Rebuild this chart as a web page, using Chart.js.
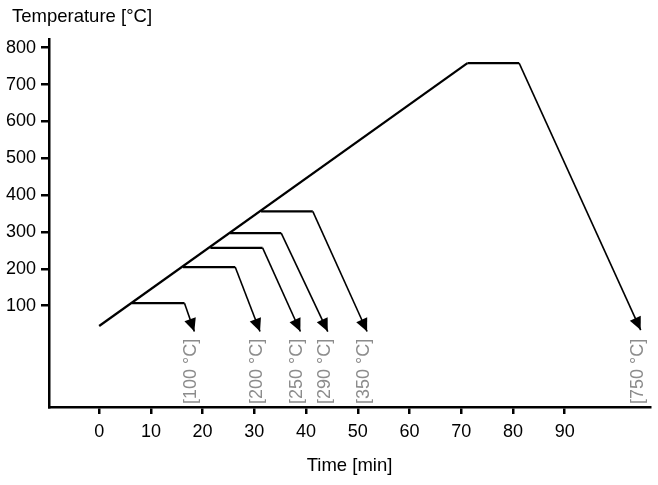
<!DOCTYPE html>
<html>
<head>
<meta charset="utf-8">
<script src="https://cdn.jsdelivr.net/npm/chart.js@4/dist/chart.umd.min.js"></script>
<style>
  html, body { margin: 0; padding: 0; background: #fff; }
  #chart { display: block; }
</style>
</head>
<body>
<canvas id="chart" width="658" height="485"></canvas>
<script>
// heating ramp, then hold, then cool down for each end temperature
const rampX = [0, 71.2];
const rampY = [45, 758];
const holdTemps = [107, 205, 257, 297, 356, 758];
const holdStart = [6.3, 16.2, 21.5, 25.3, 31.3, 71.2];
const holdEnd = [16.5, 26.3, 31.6, 35.2, 41.3, 81.2];
const coolEndX = [18.4, 31.1, 38.9, 44.2, 51.8, 104.7];
const coolEndY = [30, 30, 30, 30, 30, 34];
const endLabels = ["[100 °C]", "[200 °C]", "[250 °C]", "[290 °C]", "[350 °C]", "[750 °C]"];
const xTicks = [0, 10, 20, 30, 40, 50, 60, 70, 80, 90];
const yTicks = [100, 200, 300, 400, 500, 600, 700, 800];

const FONT = "'Liberation Sans', Arial, sans-serif";

let datasets = [{
  data: rampX.map((x, i) => ({x: x, y: rampY[i]})),
  borderColor: "#000",
  borderWidth: 2.2
}];

holdTemps.forEach(function(t, i) {
  datasets.push({
    data: [
      {x: holdStart[i], y: t},
      {x: holdEnd[i], y: t},
      {x: coolEndX[i], y: coolEndY[i]}
    ],
    borderColor: "#000",
    borderWidth: 2.2,
    segment: {
      borderWidth: ctx => ctx.p1DataIndex === 2 ? 1.6 : 2.2
    },
    arrow: true,
    endLabel: endLabels[i]
  });
});

// arrow heads at the end of each cooling line, and the grey end labels
const arrowPlugin = {
  id: "arrows",
  afterLayout: function(chart) {
    // title sits a bit in from the left edge
    chart.titleBlock.left = 12;
  },
  afterDatasetsDraw: function(chart) {
    let ctx = chart.ctx;
    let bottom = chart.chartArea.bottom;
    chart.data.datasets.forEach(function(ds, i) {
      if (!ds.arrow) return;
      let pts = chart.getDatasetMeta(i).data;
      let a = pts[pts.length - 2];
      let b = pts[pts.length - 1];
      let ang = Math.atan2(b.y - a.y, b.x - a.x);
      let len = 13, half = 6;
      ctx.save();
      ctx.translate(b.x, b.y);
      ctx.rotate(ang);
      ctx.beginPath();
      ctx.moveTo(0, 0);
      ctx.lineTo(-len, -half);
      ctx.lineTo(-len, half);
      ctx.closePath();
      ctx.fillStyle = "#000";
      ctx.fill();
      ctx.restore();

      ctx.save();
      ctx.translate(b.x - 3, bottom - 3);
      ctx.rotate(-Math.PI / 2);
      ctx.font = "18px " + FONT;
      ctx.fillStyle = "#8c8c8c";
      ctx.textAlign = "left";
      ctx.textBaseline = "middle";
      ctx.fillText(ds.endLabel, 0, 0);
      ctx.restore();
    });
  }
};

new Chart(document.getElementById("chart"), {
  type: "line",
  data: { datasets: datasets },
  plugins: [arrowPlugin],
  options: {
    responsive: false,
    animation: false,
    devicePixelRatio: 1,
    layout: { padding: { left: 0, right: 8, top: 0, bottom: 0 } },
    elements: { point: { radius: 0 }, line: { tension: 0 } },
    plugins: {
      legend: { display: false },
      tooltip: { enabled: false },
      title: {
        display: true,
        text: "Temperature [°C]",
        align: "start",
        color: "#000",
        font: { family: FONT, size: 18.5, weight: "normal" },
        padding: { top: 6, bottom: 10.8 }
      }
    },
    scales: {
      x: {
        type: "linear",
        min: -9.7,
        max: 106.5,
        afterBuildTicks: s => { s.ticks = xTicks.map(v => ({value: v})); },
        afterFit: s => { s.height = 78; },
        border: { display: true, color: "#000", width: 2.5 },
        grid: { drawOnChartArea: false, drawTicks: true, tickLength: 7, color: "#000", lineWidth: 2.5 },
        ticks: { color: "#000", padding: 7, maxRotation: 0, autoSkip: false, font: { family: FONT, size: 18 } },
        title: {
          display: true,
          text: "Time [min]",
          color: "#000",
          font: { family: FONT, size: 18.5 },
          padding: { top: 0, bottom: 8 }
        }
      },
      y: {
        type: "linear",
        min: -174.7,
        max: 823.6,
        afterBuildTicks: s => { s.ticks = yTicks.map(v => ({value: v})); },
        afterFit: s => { s.width = 49; },
        border: { display: true, color: "#000", width: 2.5 },
        grid: { drawOnChartArea: false, drawTicks: true, tickLength: 8, color: "#000", lineWidth: 2.5 },
        ticks: { color: "#000", padding: 5, autoSkip: false, font: { family: FONT, size: 18 } }
      }
    }
  }
});
</script>
</body>
</html>
